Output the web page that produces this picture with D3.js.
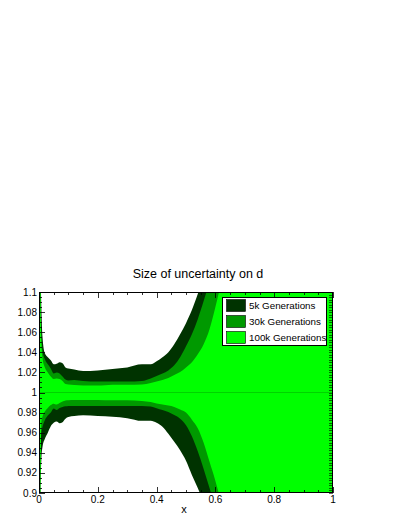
<!DOCTYPE html>
<html>
<head>
<meta charset="utf-8">
<script src="https://cdn.jsdelivr.net/npm/d3@7"></script>
<style>
  body { margin: 0; background: #fff; }
  text { font-family: "Liberation Sans", Arial, sans-serif; }
</style>
</head>
<body>
<svg id="chart" width="401" height="519"></svg>
<script>
// x grid shared by all band edges
var xs = [0, 0.004, 0.008, 0.012, 0.02, 0.03, 0.04, 0.05, 0.06, 0.07, 0.08, 0.09, 0.1,
  0.12, 0.15, 0.2, 0.25, 0.3, 0.35, 0.38, 0.4, 0.42, 0.44, 0.46, 0.48, 0.5, 0.52,
  0.54, 0.56, 0.58, 0.6, 0.62, 0.65, 1.0]

// upper / lower edge of each band
var up5k = [1.30, 1.15, 1.085, 1.055, 1.039, 1.035, 1.032, 1.028, 1.0285, 1.030, 1.029, 1.025, 1.024,
  1.023, 1.0215, 1.022, 1.0235, 1.025, 1.028, 1.028, 1.031, 1.035, 1.040, 1.048, 1.058, 1.069, 1.082,
  1.098, 1.115, 1.135, 1.16, 1.19, 1.23, 1.5]
var lo5k = [0.70, 0.88, 0.933, 0.946, 0.954, 0.960, 0.9665, 0.970, 0.9712, 0.9695, 0.9705, 0.974, 0.9756,
  0.9766, 0.9773, 0.9766, 0.9758, 0.9745, 0.9718, 0.972, 0.970, 0.966, 0.959, 0.951, 0.9425, 0.932, 0.918,
  0.905, 0.89, 0.87, 0.85, 0.83, 0.79, 0.5]
var up30k = [1.25, 1.13, 1.06, 1.042, 1.033, 1.028, 1.024, 1.019, 1.020, 1.019, 1.016, 1.013, 1.012,
  1.0125, 1.0115, 1.011, 1.011, 1.011, 1.0115, 1.014, 1.0165, 1.019, 1.022, 1.027, 1.035, 1.046, 1.058,
  1.073, 1.091, 1.11, 1.13, 1.16, 1.20, 1.5]
var lo30k = [0.75, 0.89, 0.9607, 0.966, 0.9725, 0.977, 0.980, 0.984, 0.9825, 0.9845, 0.9855, 0.9862, 0.9866,
  0.9866, 0.9866, 0.9866, 0.9866, 0.9866, 0.9866, 0.986, 0.9843, 0.9825, 0.9805, 0.9775, 0.974, 0.9675, 0.9565,
  0.9415, 0.924, 0.905, 0.885, 0.86, 0.82, 0.5]
var up100k = [1.25, 1.12, 1.05, 1.034, 1.025, 1.020, 1.016, 1.0135, 1.014, 1.0135, 1.0115, 1.0085, 1.008,
  1.0075, 1.007, 1.007, 1.0078, 1.0078, 1.008, 1.0095, 1.011, 1.0125, 1.0145, 1.0175, 1.0205, 1.025, 1.030,
  1.038, 1.048, 1.063, 1.085, 1.11, 1.15, 1.5]
var lo100k = [0.75, 0.88, 0.9706, 0.976, 0.981, 0.9846, 0.9875, 0.9889, 0.988, 0.9895, 0.991, 0.992, 0.9923,
  0.9925, 0.9925, 0.9925, 0.9922, 0.9922, 0.9915, 0.9905, 0.989, 0.988, 0.987, 0.9856, 0.983, 0.980, 0.973,
  0.9645, 0.950, 0.931, 0.912, 0.89, 0.85, 0.5]

var labels = ["5k Generations", "30k Generations", "100k Generations"]
var colors = ["#003300", "#009900", "#00ff00"]
var xTicks = [0, 0.2, 0.4, 0.6, 0.8, 1]
var yTicks = [0.9, 0.92, 0.94, 0.96, 0.98, 1, 1.02, 1.04, 1.06, 1.08, 1.1]

var bands = [
  {name: labels[0], color: colors[0], up: up5k, lo: lo5k},
  {name: labels[1], color: colors[1], up: up30k, lo: lo30k},
  {name: labels[2], color: colors[2], up: up100k, lo: lo100k}
]

var svg = d3.select("#chart")
var pLeft = 39, pRight = 333, pTop = 292, pBottom = 493

var x = d3.scaleLinear().domain([0, 1]).range([pLeft, pRight])
var y = d3.scaleLinear().domain([0.9, 1.1]).range([pBottom, pTop])

svg.append("text")
  .attr("x", 198).attr("y", 278)
  .attr("text-anchor", "middle")
  .attr("font-size", 12.5)
  .text("Size of uncertainty on d")

svg.append("clipPath").attr("id", "plotClip")
  .append("rect")
  .attr("x", pLeft).attr("y", pTop)
  .attr("width", pRight - pLeft).attr("height", pBottom - pTop)

var plot = svg.append("g").attr("clip-path", "url(#plotClip)")

var area = d3.area()
  .x(function(d, i) { return x(xs[i]) })
  .y0(function(d) { return y(d.lo) })
  .y1(function(d) { return y(d.up) })
  .curve(d3.curveMonotoneX)

// 5k first, 100k on top
bands.forEach(function(b) {
  var pts = xs.map(function(v, i) { return {up: b.up[i], lo: b.lo[i]} })
  plot.append("path")
    .datum(pts)
    .attr("d", area)
    .attr("fill", b.color)
})

// line at d = 1
plot.append("line")
  .attr("x1", pLeft).attr("x2", pRight)
  .attr("y1", y(1)).attr("y2", y(1))
  .attr("stroke", "#00c800")
  .attr("stroke-width", 0.8)

// axes: ticks point inward
var frame = svg.append("g")

var xMinor = d3.range(0, 1.0001, 0.05)
var yMinor = d3.range(0.9, 1.1001, 0.005)
var yRight = d3.range(0.9, 1.1001, 0.0025)

function isMajorX(v) { return Math.abs(v * 5 - Math.round(v * 5)) < 1e-6 }
function isMajorY(v) { return Math.abs(v * 50 - Math.round(v * 50)) < 1e-6 }

frame.selectAll(".xb").data(xMinor).enter().append("line")
  .attr("x1", function(d) { return Math.round(x(d)) + 0.5 })
  .attr("x2", function(d) { return Math.round(x(d)) + 0.5 })
  .attr("y1", pBottom)
  .attr("y2", function(d) { return pBottom - (isMajorX(d) ? 6 : 3) })
  .attr("stroke", "#000").attr("stroke-width", 0.8)

frame.selectAll(".xt").data(xMinor).enter().append("line")
  .attr("x1", function(d) { return Math.round(x(d)) + 0.5 })
  .attr("x2", function(d) { return Math.round(x(d)) + 0.5 })
  .attr("y1", pTop)
  .attr("y2", function(d) { return pTop + (isMajorX(d) ? 6 : 3) })
  .attr("stroke", "#000").attr("stroke-width", 0.8)

frame.selectAll(".yl").data(yMinor).enter().append("line")
  .attr("y1", function(d) { return Math.round(y(d)) + 0.5 })
  .attr("y2", function(d) { return Math.round(y(d)) + 0.5 })
  .attr("x1", pLeft)
  .attr("x2", function(d) { return pLeft + (isMajorY(d) ? 6 : 3) })
  .attr("stroke", "#000").attr("stroke-width", 0.8)

frame.selectAll(".yr").data(yRight).enter().append("line")
  .attr("y1", function(d) { return Math.round(y(d)) + 0.5 })
  .attr("y2", function(d) { return Math.round(y(d)) + 0.5 })
  .attr("x1", pRight)
  .attr("x2", pRight - 4)
  .attr("stroke", "#000").attr("stroke-width", 0.6)

frame.append("rect")
  .attr("x", pLeft + 0.5).attr("y", pTop + 0.5)
  .attr("width", pRight - pLeft - 1).attr("height", pBottom - pTop - 1)
  .attr("fill", "none").attr("stroke", "#000").attr("stroke-width", 1)

frame.selectAll(".xlab").data(xTicks).enter().append("text")
  .attr("x", function(d) { return x(d) })
  .attr("y", pBottom + 10)
  .attr("text-anchor", "middle")
  .attr("font-size", 10)
  .text(function(d) { return d3.format("~g")(d) })

frame.selectAll(".ylab").data(yTicks).enter().append("text")
  .attr("x", pLeft - 2)
  .attr("y", function(d) { return y(d) + 3.5 })
  .attr("text-anchor", "end")
  .attr("font-size", 10)
  .text(function(d) { return d3.format("~g")(d) })

svg.append("text")
  .attr("x", 184).attr("y", 513)
  .attr("text-anchor", "middle")
  .attr("font-size", 11)
  .text("x")

// legend
var legend = svg.append("g")
legend.append("rect")
  .attr("x", 222.5).attr("y", 297.5)
  .attr("width", 104).attr("height", 48)
  .attr("fill", "#fff").attr("stroke", "#000").attr("stroke-width", 1)

var rows = legend.selectAll(".row").data(bands).enter().append("g")
  .attr("transform", function(d, i) { return "translate(226," + (299 + i * 16) + ")" })
rows.append("rect")
  .attr("x", 0.5).attr("y", 0.5)
  .attr("width", 19).attr("height", 12)
  .attr("fill", function(d) { return d.color })
  .attr("stroke", "#000").attr("stroke-width", 0.6)
rows.append("text")
  .attr("x", 23).attr("y", 10)
  .attr("font-size", 9.8)
  .text(function(d) { return d.name })
</script>
</body>
</html>
